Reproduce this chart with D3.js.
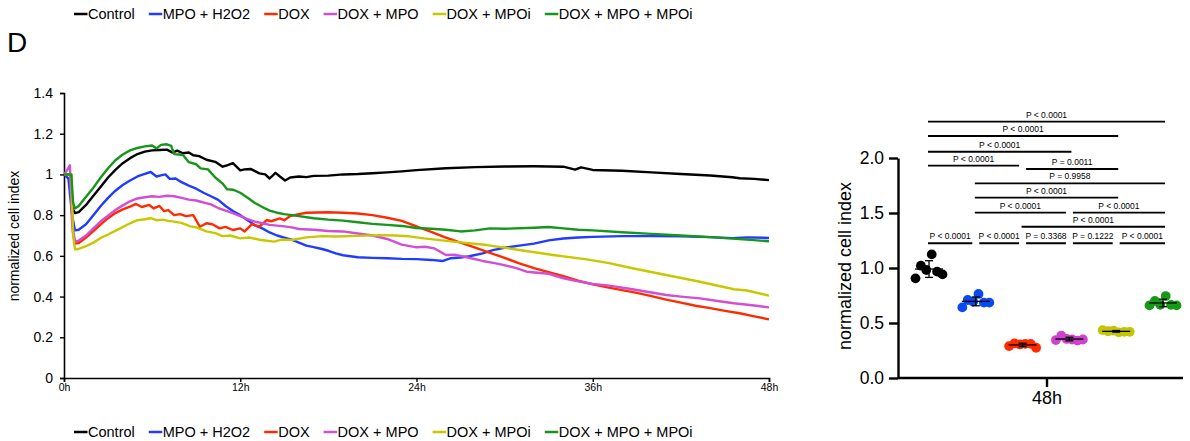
<!DOCTYPE html>
<html>
<head>
<meta charset="utf-8">
<script src="https://cdn.jsdelivr.net/npm/d3@7/dist/d3.min.js"></script>
<style>
body { margin: 0; background: #fff; }
svg text { font-family: "Liberation Sans", Arial, sans-serif; fill: #000; }
</style>
</head>
<body>
<svg id="chart" width="1190" height="441"></svg>
<script>
// groups and colours
const groups = ['Control', 'MPO + H2O2', 'DOX', 'DOX + MPO', 'DOX + MPOi', 'DOX + MPO + MPOi'];
const lineColors = ['#000000', '#1f3cff', '#ff2a00', '#d24ed2', '#c8c800', '#16961a'];
const dotColors = ['#000000', '#0a48f0', '#ff2a00', '#cc44cc', '#c4c400', '#169a16'];

// real-time cell index curves, [hour, normalized cell index]
const controlCurve = [[0,1.0],[0.45,1.0],[0.6,0.83],[0.75,0.81],[1,0.815],[1.5,0.85],[2,0.895],[2.5,0.94],[3,0.985],[3.5,1.022],[4,1.055],[4.5,1.08],[5,1.1],[5.5,1.112],[6,1.118],[6.5,1.12],[7,1.122],[7.4,1.107],[7.7,1.117],[8.1,1.104],[8.5,1.108],[8.8,1.094],[9.2,1.09],[9.7,1.072],[10.3,1.062],[10.8,1.038],[11.1,1.045],[11.5,1.055],[12,1.02],[12.3,1.025],[12.7,1.027],[13.3,1.005],[13.7,1.0],[14,0.98],[14.4,1.008],[14.7,0.99],[15.05,0.97],[15.4,0.985],[16,0.99],[16.5,0.987],[17,0.993],[18,0.994],[19,1.0],[20,1.002],[21,1.006],[22,1.01],[23,1.015],[24,1.021],[26,1.03],[28,1.036],[30,1.039],[32,1.04],[34,1.038],[34.8,1.024],[35.2,1.035],[36,1.022],[38,1.018],[40,1.01],[42,1.002],[44,0.995],[45.5,0.986],[46,0.981],[47,0.978],[48,0.972]];
const mpoCurve = [[0,1.0],[0.3,0.98],[0.55,0.8],[0.75,0.725],[1,0.728],[1.5,0.755],[2,0.8],[2.5,0.845],[3,0.885],[3.5,0.92],[4,0.948],[4.5,0.97],[5,0.99],[5.5,1.003],[5.9,1.012],[6.3,0.99],[6.6,0.995],[6.9,1.0],[7.2,0.978],[7.6,0.98],[8,0.962],[8.5,0.945],[9,0.93],[9.5,0.91],[10,0.893],[10.5,0.875],[11,0.845],[11.5,0.82],[12,0.8],[12.5,0.775],[13,0.75],[13.5,0.735],[14,0.715],[14.5,0.7],[15,0.69],[15.5,0.68],[16,0.665],[16.5,0.65],[17,0.643],[17.5,0.635],[18,0.625],[18.5,0.612],[19,0.603],[20,0.593],[21,0.59],[22,0.588],[23,0.585],[24,0.584],[25,0.58],[25.8,0.575],[26.3,0.588],[27,0.592],[27.6,0.598],[28.5,0.612],[29.2,0.628],[30,0.64],[31,0.65],[32,0.66],[33,0.676],[34,0.685],[35,0.69],[36,0.693],[38,0.697],[40,0.697],[42,0.696],[44,0.692],[45.5,0.687],[46.5,0.691],[48,0.688]];
const doxCurve = [[0,1.0],[0.45,1.0],[0.6,0.72],[0.75,0.66],[1,0.663],[1.5,0.69],[2,0.722],[2.5,0.755],[3,0.785],[3.5,0.81],[4,0.828],[4.5,0.842],[4.9,0.855],[5.3,0.84],[5.8,0.85],[6.1,0.833],[6.5,0.845],[6.8,0.82],[7.1,0.825],[7.5,0.8],[7.9,0.805],[8.3,0.795],[8.8,0.8],[9.25,0.743],[9.7,0.76],[10.1,0.755],[10.6,0.735],[11,0.742],[11.5,0.727],[12,0.735],[12.3,0.72],[12.8,0.756],[13.3,0.743],[13.8,0.776],[14.1,0.77],[14.7,0.784],[15,0.775],[15.4,0.796],[16,0.805],[16.5,0.812],[18,0.814],[19,0.812],[20,0.808],[21,0.8],[22,0.787],[23,0.772],[24,0.745],[25,0.718],[26,0.69],[27,0.665],[28,0.64],[29,0.615],[30,0.59],[31,0.563],[32,0.54],[33,0.52],[34,0.5],[35,0.478],[36,0.46],[37,0.445],[38,0.432],[39,0.418],[40,0.402],[41,0.385],[42,0.37],[43,0.355],[44,0.343],[45,0.33],[46,0.318],[47,0.303],[48,0.288]];
const doxMpoCurve = [[0,1.0],[0.2,1.02],[0.4,1.045],[0.55,0.76],[0.75,0.67],[1,0.675],[1.5,0.7],[2,0.735],[2.5,0.77],[3,0.797],[3.5,0.825],[4,0.848],[4.5,0.868],[5,0.882],[5.5,0.888],[6,0.893],[6.5,0.89],[7,0.895],[7.5,0.893],[8,0.885],[8.5,0.876],[9,0.872],[9.5,0.862],[10,0.853],[10.5,0.835],[11,0.822],[11.5,0.81],[12,0.795],[12.5,0.78],[13,0.768],[13.5,0.76],[14,0.752],[15,0.745],[15.5,0.74],[16,0.732],[17,0.728],[18,0.722],[19,0.72],[20,0.71],[21,0.7],[22,0.683],[23,0.655],[24,0.642],[24.6,0.645],[25.2,0.637],[26,0.604],[26.6,0.606],[27.5,0.592],[28.5,0.575],[29.5,0.562],[30.8,0.54],[31.5,0.522],[33,0.512],[34,0.49],[35,0.475],[36,0.462],[37,0.455],[38.7,0.436],[40,0.42],[41,0.408],[42,0.4],[43.3,0.391],[44.5,0.378],[45.6,0.367],[47,0.356],[48,0.347]];
const doxMpoiCurve = [[0,1.0],[0.5,1.0],[0.62,0.7],[0.75,0.632],[1,0.634],[1.5,0.648],[2,0.665],[2.5,0.688],[3,0.705],[3.5,0.723],[4,0.742],[4.5,0.76],[5,0.775],[5.5,0.78],[5.9,0.785],[6.3,0.775],[6.7,0.778],[7.1,0.772],[7.5,0.768],[8,0.762],[8.6,0.745],[9,0.74],[9.7,0.72],[10.3,0.712],[10.8,0.697],[11.3,0.7],[12,0.686],[12.6,0.69],[13.4,0.678],[14.3,0.67],[14.8,0.68],[15.5,0.678],[16.5,0.691],[17.6,0.697],[18.5,0.695],[20,0.698],[21.5,0.702],[22.5,0.7],[23.5,0.696],[24.5,0.686],[26.5,0.67],[28.8,0.653],[31,0.629],[33.3,0.604],[35.6,0.583],[37.2,0.563],[38.7,0.539],[41,0.506],[43.3,0.473],[45.6,0.436],[46.5,0.43],[48,0.405]];
const doxMpoMpoiCurve = [[0,1.0],[0.5,1.0],[0.62,0.86],[0.75,0.833],[1,0.845],[1.5,0.89],[2,0.935],[2.5,0.985],[3,1.03],[3.5,1.07],[4,1.098],[4.5,1.118],[5,1.13],[5.5,1.138],[6,1.142],[6.3,1.128],[6.6,1.145],[7,1.148],[7.3,1.14],[7.5,1.1],[7.8,1.098],[8.1,1.095],[8.5,1.06],[9,1.05],[9.3,1.03],[9.8,1.025],[10.3,0.985],[10.8,0.955],[11.1,0.927],[11.5,0.925],[12,0.91],[12.5,0.885],[13,0.86],[13.5,0.84],[14,0.822],[14.5,0.812],[15,0.805],[15.5,0.8],[16,0.795],[17,0.785],[18,0.778],[19,0.773],[20,0.765],[21,0.757],[22,0.752],[23,0.747],[24,0.737],[25,0.733],[26,0.728],[27,0.72],[28,0.725],[29,0.735],[30,0.733],[32,0.738],[33,0.742],[34,0.735],[35,0.728],[36,0.725],[38,0.716],[40,0.708],[42,0.7],[44,0.692],[46,0.682],[48,0.672]];
const curves = [controlCurve, mpoCurve, doxCurve, doxMpoCurve, doxMpoiCurve, doxMpoMpoiCurve];
const timeTicks = [0, 12, 24, 36, 48];
const indexTicks = [0, 0.2, 0.4, 0.6, 0.8, 1, 1.2, 1.4];

// 48h end point replicates
const controlDots = [0.906, 1.021, 0.982, 1.124, 0.967, 0.942];
const mpoDots = [0.642, 0.709, 0.694, 0.764, 0.685, 0.685];
const doxDots = [0.29, 0.315, 0.305, 0.31, 0.31, 0.275];
const doxMpoDots = [0.345, 0.385, 0.355, 0.35, 0.34, 0.35];
const doxMpoiDots = [0.435, 0.425, 0.43, 0.415, 0.42, 0.42];
const doxMpoMpoiDots = [0.66, 0.70, 0.665, 0.745, 0.665, 0.66];
const dots = [controlDots, mpoDots, doxDots, doxMpoDots, doxMpoiDots, doxMpoMpoiDots];
const dotTicks = [0, 0.5, 1.0, 1.5, 2.0];

// pairwise comparisons: [from group, to group, bar height (cell index), label]
const comparisons = [
  [0, 1, 1.225, 'P < 0.0001'],
  [1, 2, 1.225, 'P < 0.0001'],
  [2, 3, 1.225, 'P = 0.3368'],
  [3, 4, 1.225, 'P = 0.1222'],
  [4, 5, 1.225, 'P < 0.0001'],
  [2, 5, 1.375, 'P < 0.0001'],
  [1, 3, 1.503, 'P < 0.0001'],
  [3, 5, 1.503, 'P < 0.0001'],
  [1, 4, 1.639, 'P < 0.0001'],
  [1, 5, 1.77, 'P = 0.9958'],
  [2, 4, 1.9, 'P = 0.0011'],
  [0, 2, 1.93, 'P < 0.0001'],
  [0, 3, 2.057, 'P < 0.0001'],
  [0, 4, 2.2, 'P < 0.0001'],
  [0, 5, 2.33, 'P < 0.0001']
];

const svg = d3.select('#chart');

// panel letter
svg.append('text').attr('x', 7).attr('y', 52).attr('font-size', 28).text('D');

// ---------- left panel: time course ----------
const x = d3.scaleLinear().domain([0, 48]).range([64, 769]);
const y = d3.scaleLinear().domain([0, 1.4]).range([378, 93]);

const xAxisL = svg.append('g')
  .attr('transform', 'translate(0,378)')
  .call(d3.axisBottom(x).tickValues(timeTicks).tickFormat(d => d + 'h').tickSize(4).tickPadding(2));
xAxisL.selectAll('text')
  .attr('font-family', '"Liberation Sans Narrow", "Arial Narrow", "DejaVu Sans Condensed", sans-serif')
  .attr('font-size', 10.5);

const yAxisL = svg.append('g')
  .attr('transform', 'translate(64,0)')
  .call(d3.axisLeft(y).tickValues(indexTicks).tickFormat(d => String(+d.toFixed(1))).tickSize(4).tickPadding(7));
yAxisL.selectAll('text').attr('font-size', 14);

[xAxisL, yAxisL].forEach(a => {
  a.select('.domain').attr('stroke', '#000').attr('stroke-width', 1.6);
  a.selectAll('.tick line').attr('stroke', '#000').attr('stroke-width', 1.4);
  a.selectAll('text').attr('fill', '#000');
});

svg.append('text')
  .attr('transform', 'translate(19,236) rotate(-90)')
  .attr('text-anchor', 'middle')
  .attr('font-size', 14)
  .text('normalized cell index');

const line = d3.line().x(d => x(d[0])).y(d => y(d[1]));
svg.append('g').selectAll('path')
  .data(curves)
  .join('path')
  .attr('d', line)
  .attr('fill', 'none')
  .attr('stroke', (d, i) => lineColors[i])
  .attr('stroke-width', 2.4)
  .attr('stroke-linejoin', 'round');

// ---------- right panel: 48h scatter ----------
const gx = d3.scalePoint().domain(d3.range(groups.length)).range([929, 1163]);
const gy = d3.scaleLinear().domain([0, 2]).range([378, 158]);

const xAxisR = svg.append('g')
  .attr('transform', 'translate(0,378)');
xAxisR.append('line').attr('x1', 898).attr('x2', 1183).attr('stroke', '#000').attr('stroke-width', 2.4);
xAxisR.append('line').attr('x1', 1047).attr('x2', 1047).attr('y2', 9).attr('stroke', '#000').attr('stroke-width', 2.4);
xAxisR.append('text').attr('x', 1047).attr('y', 26).attr('text-anchor', 'middle').attr('font-size', 18).text('48h');

const yAxisR = svg.append('g')
  .attr('transform', 'translate(898,0)')
  .call(d3.axisLeft(gy).tickValues(dotTicks).tickFormat(d3.format('.1f')).tickSize(9).tickPadding(5).tickSizeOuter(0));
yAxisR.select('.domain').attr('stroke', '#000').attr('stroke-width', 2.4);
yAxisR.selectAll('.tick line').attr('stroke', '#000').attr('stroke-width', 2.4);
yAxisR.selectAll('text').attr('font-size', 17.5).attr('fill', '#000');

svg.append('text')
  .attr('transform', 'translate(851,266) rotate(-90)')
  .attr('text-anchor', 'middle')
  .attr('font-size', 18)
  .text('normalized cell index');

// dots
const spread = 5.4;
dots.forEach((vals, gi) => {
  svg.append('g').selectAll('circle')
    .data(vals)
    .join('circle')
    .attr('cx', (d, i) => gx(gi) + (i - (vals.length - 1) / 2) * spread)
    .attr('cy', d => gy(d))
    .attr('r', 4.9)
    .attr('fill', dotColors[gi]);
});

// mean and SD
dots.forEach((vals, gi) => {
  const m = d3.mean(vals);
  const sd = d3.deviation(vals);
  const cx = gx(gi);
  const g = svg.append('g').attr('stroke', '#000').attr('stroke-width', 1.3);
  g.append('line').attr('x1', cx - 14).attr('x2', cx + 14).attr('y1', gy(m)).attr('y2', gy(m));
  g.append('line').attr('x1', cx).attr('x2', cx).attr('y1', gy(m - sd)).attr('y2', gy(m + sd));
  g.append('line').attr('x1', cx - 4).attr('x2', cx + 4).attr('y1', gy(m - sd)).attr('y2', gy(m - sd));
  g.append('line').attr('x1', cx - 4).attr('x2', cx + 4).attr('y1', gy(m + sd)).attr('y2', gy(m + sd));
});

// significance bars
function sharesEnd(c, g) {
  return comparisons.some(o => o !== c && Math.abs(o[2] - c[2]) < 0.05 && (o[0] === g || o[1] === g));
}
const sig = svg.append('g');
comparisons.forEach(c => {
  const x1 = gx(c[0]) + (sharesEnd(c, c[0]) ? 3.5 : -1);
  const x2 = gx(c[1]) - (sharesEnd(c, c[1]) ? 3.5 : -2);
  const yy = gy(c[2]);
  sig.append('line').attr('x1', x1).attr('x2', x2).attr('y1', yy).attr('y2', yy)
    .attr('stroke', '#000').attr('stroke-width', 1.8);
  sig.append('text').attr('x', (x1 + x2) / 2).attr('y', yy - 4)
    .attr('text-anchor', 'middle').attr('font-size', 8.5).text(c[3]);
});

// ---------- legends ----------
function drawLegend(cy) {
  const g = svg.append('g');
  let cx = 74;
  groups.forEach((name, i) => {
    g.append('line').attr('x1', cx).attr('x2', cx + 13.5).attr('y1', cy).attr('y2', cy)
      .attr('stroke', lineColors[i]).attr('stroke-width', 2.5);
    const t = g.append('text').attr('x', cx + 14).attr('y', cy + 5.2)
      .attr('font-size', 14.5).text(name);
    cx += 14 + t.node().getComputedTextLength() + 14;
  });
}
drawLegend(14);
drawLegend(432);
</script>
</body>
</html>
